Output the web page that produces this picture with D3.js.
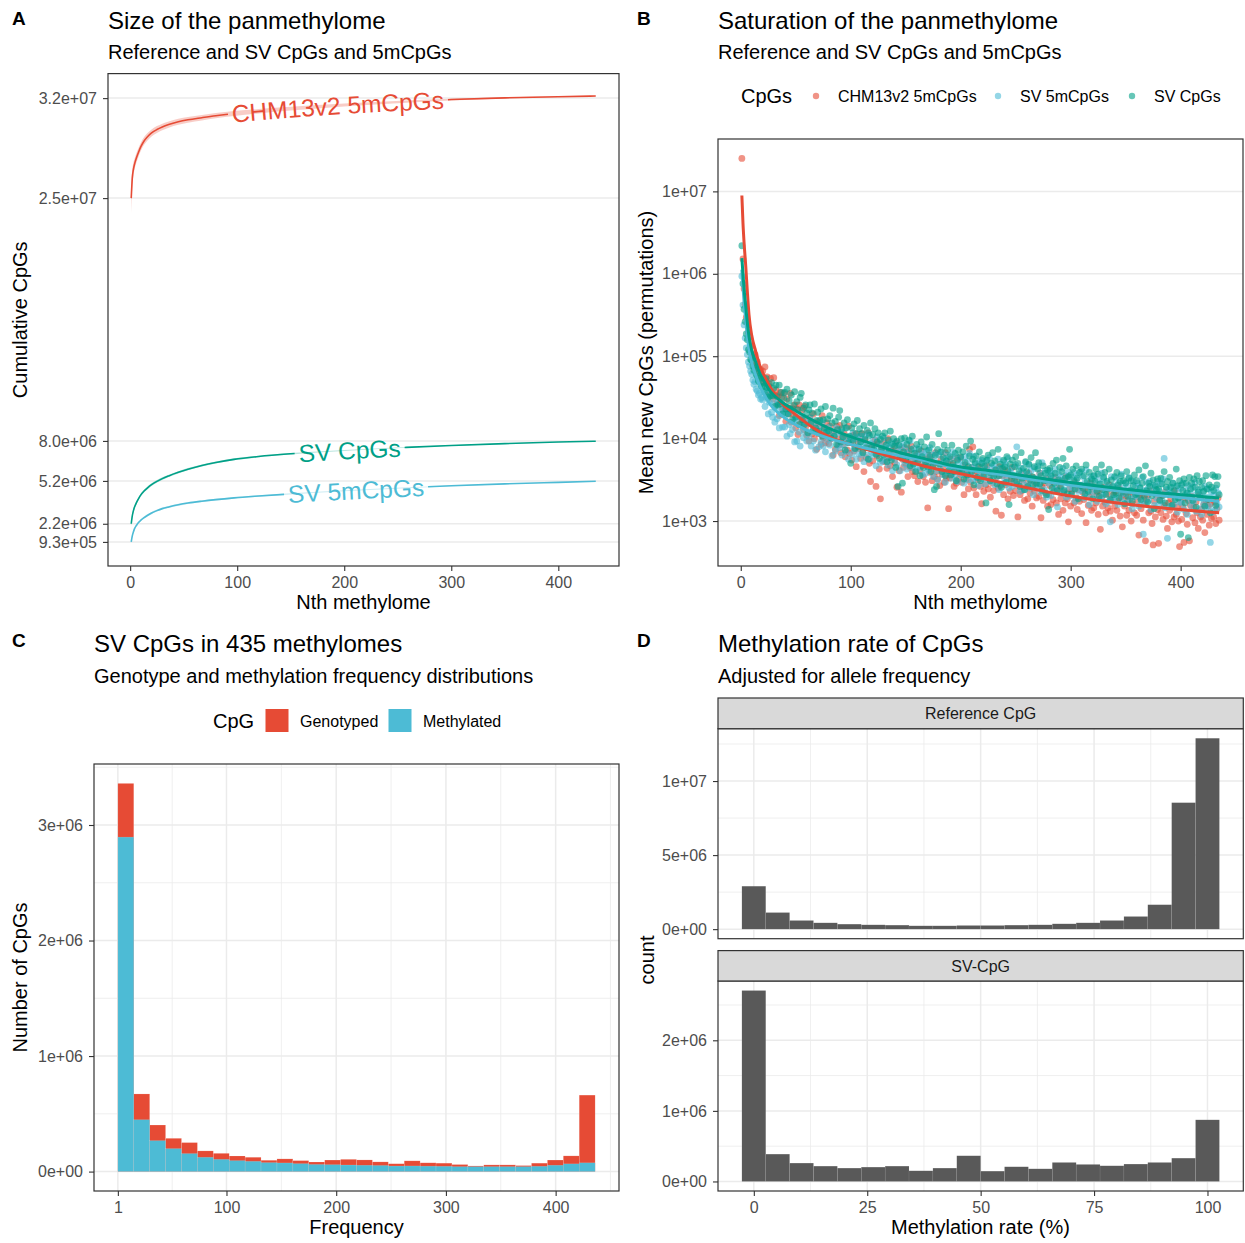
<!DOCTYPE html>
<html><head><meta charset="utf-8">
<script src="https://cdn.jsdelivr.net/npm/d3@7"></script>
<style>body{margin:0;background:#fff;}</style>
</head><body>
<script>
// ===================== DATA =====================
// Panel A: cumulative CpGs (millions) at methylome index
const nA = [1,2,3,4,6,8,10,13,16,20,25,30,36,45,54,67,80,97,120,150,200,258,300,350,400,435];
const cumChmM  = [25.0,26.4,27.0,27.35,27.85,28.25,28.6,29.0,29.28,29.56,29.8,29.98,30.15,30.34,30.48,30.63,30.77,30.92,31.08,31.26,31.52,31.76,31.9,32.02,32.1,32.15];
const cumSvM   = [2.2,2.75,3.1,3.35,3.7,3.98,4.22,4.49,4.70,4.94,5.17,5.36,5.55,5.80,6.02,6.28,6.49,6.71,6.91,7.10,7.33,7.55,7.68,7.81,7.92,7.98];
const cumSv5mM = [0.93,1.35,1.62,1.84,2.1,2.3,2.45,2.63,2.78,2.95,3.12,3.26,3.38,3.53,3.65,3.78,3.89,4.01,4.14,4.29,4.51,4.72,4.86,4.99,5.1,5.18];
// half-width of the permutation band (millions)
const bandChmM  = [1.1,0.6,0.45,0.38,0.33,0.3,0.28,0.27,0.26,0.25,0.24,0.23,0.22,0.21,0.2,0.19,0.18,0.17,0.15,0.13,0.1,0.08,0.06,0.04,0.02,0];
const bandSvM   = [0.2,0.15,0.13,0.12,0.11,0.1,0.1,0.1,0.1,0.09,0.09,0.09,0.08,0.08,0.08,0.07,0.07,0.07,0.06,0.05,0.04,0.03,0.025,0.02,0.01,0];
const bandSv5mM = [0.12,0.1,0.09,0.09,0.08,0.08,0.08,0.08,0.08,0.08,0.07,0.07,0.07,0.07,0.06,0.06,0.06,0.05,0.05,0.04,0.035,0.03,0.025,0.02,0.01,0];
const yTicksA = [0.93,2.2,5.2,8.0,25,32];
const yTickLabelsA = ["9.3e+05","2.2e+06","5.2e+06","8.0e+06","2.5e+07","3.2e+07"];
const xTicksN = [0,100,200,300,400];

// Panel B: log10(mean new CpGs) for methylome n = 1..435
const newChmLog10 = [7.40,6.18,5.82,5.63,5.47,5.41,5.29,5.24,5.14,5.12,5.03,4.99,5.02,4.90,4.93,4.85,4.80,4.84,4.74,
4.82,4.68,4.87,4.69,4.75,4.53,4.66,4.73,4.54,4.48,4.74,4.53,4.59,4.42,4.52,4.28,4.56,4.50,4.36,4.55,
4.36,4.21,4.48,4.38,4.30,4.55,4.20,4.36,4.29,4.41,4.13,4.36,4.05,4.41,4.18,4.24,4.35,4.11,4.39,4.14,
4.04,4.23,3.97,4.25,4.18,4.06,4.30,4.00,4.14,3.87,4.21,4.06,4.16,3.93,4.28,4.01,4.10,3.95,4.19,4.03,
3.94,4.15,4.00,4.08,3.80,4.04,3.87,4.15,3.99,3.92,4.16,3.83,4.04,3.93,4.06,3.78,3.99,3.86,4.15,3.82,
3.96,3.74,4.04,3.85,4.06,3.66,3.97,3.88,3.99,3.76,4.06,3.84,3.60,3.98,3.77,3.89,4.07,3.70,3.48,3.91,
3.73,3.93,3.98,3.42,3.79,3.94,3.63,3.27,3.87,3.73,3.96,3.72,3.82,3.64,4.00,3.77,3.67,3.85,3.54,3.87,
3.71,3.95,3.41,3.80,3.61,3.87,3.35,3.75,3.65,3.89,3.70,3.82,3.54,3.85,3.65,3.91,3.60,3.73,3.55,3.76,
3.82,3.48,3.74,3.61,3.85,3.67,3.54,3.75,3.47,3.69,3.16,3.80,3.59,3.75,3.49,3.68,3.54,3.83,3.60,3.51,
3.70,3.43,3.75,3.57,3.64,3.47,3.83,3.52,3.70,3.15,3.52,3.75,3.57,3.68,3.42,3.63,3.46,3.76,3.51,3.58,
3.77,3.47,3.62,3.32,3.68,3.51,3.58,3.39,3.87,3.47,3.65,3.90,3.40,3.57,3.32,3.60,3.50,3.66,3.42,3.21,
3.56,3.36,3.61,3.44,3.67,3.39,3.51,3.29,3.57,3.46,3.37,3.62,3.12,3.54,3.40,3.66,3.43,3.07,3.55,3.32,
3.62,3.44,3.53,3.27,3.57,3.36,3.48,3.65,3.31,3.49,3.37,3.54,3.05,3.45,3.32,3.57,3.37,3.50,3.25,3.53,
3.44,3.27,3.58,3.34,3.49,3.18,3.53,3.36,3.44,3.28,3.50,3.30,3.58,3.04,3.41,3.25,3.46,3.34,3.51,3.18,
3.32,3.43,3.20,3.48,3.26,3.36,3.53,3.22,3.38,3.08,3.43,3.27,3.49,3.13,3.35,3.22,3.54,3.27,2.99,3.39,
3.18,3.36,3.43,3.22,3.47,3.28,3.14,3.38,3.24,3.43,3.09,3.35,3.26,3.39,2.98,3.43,3.19,3.29,3.46,3.13,
3.35,3.16,3.41,3.22,3.32,3.08,3.36,2.90,3.28,3.18,3.41,3.23,3.10,3.33,3.16,3.44,3.12,3.27,3.01,3.34,
3.18,3.36,3.13,3.24,3.40,3.06,3.29,2.93,3.33,3.18,3.30,3.07,3.25,3.13,3.35,3.00,3.21,3.30,3.10,3.36,
3.07,3.25,2.83,3.29,3.15,3.32,3.01,3.21,2.76,3.26,3.31,3.10,3.37,3.12,2.97,2.71,3.24,3.05,3.32,3.14,
2.73,3.26,3.10,3.31,3.02,3.19,3.35,3.06,2.91,3.22,3.13,3.27,2.99,3.20,3.05,3.37,3.08,3.17,3.00,2.69,
3.23,3.02,3.17,2.74,3.28,3.09,2.96,3.25,2.76,3.19,3.30,3.04,3.17,2.98,3.23,3.10,2.91,3.31,3.05,3.14,
3.01,3.20,2.86,3.25,3.08,3.18,2.95,3.21,3.03,3.26,3.05,3.23,2.97,3.15,3.28,3.01];
const newSv5mLog10 = [5.97,5.62,5.38,5.22,5.10,5.02,4.93,4.88,4.82,4.78,4.71,4.66,4.69,4.60,4.58,4.53,4.55,4.48,4.50,
4.47,4.57,4.39,4.50,4.55,4.30,4.44,4.52,4.32,4.26,4.44,4.20,4.38,4.24,4.44,4.13,4.30,4.34,4.14,4.36,
4.14,4.29,4.03,4.31,4.17,4.06,4.33,4.11,4.21,3.96,4.23,3.97,4.27,4.08,3.91,4.17,4.27,4.01,4.08,4.19,
3.97,4.19,4.03,4.25,3.91,4.09,3.97,4.19,3.86,4.11,4.07,3.90,4.14,3.96,4.20,3.91,4.07,3.84,4.09,3.98,
4.14,3.92,4.00,3.79,4.07,4.02,3.85,4.13,3.92,4.07,3.89,4.08,3.80,4.01,3.92,4.13,3.84,3.96,3.75,4.02,
3.98,3.81,4.07,3.88,4.00,3.75,4.02,3.82,3.93,4.03,3.80,3.96,3.72,4.03,3.91,3.80,4.06,3.75,3.94,3.83,
3.98,3.81,3.89,3.67,4.02,3.83,3.94,3.71,3.89,3.73,4.01,3.75,3.87,3.93,3.68,3.89,3.77,3.95,3.61,3.82,
3.75,3.95,3.68,3.88,3.83,3.61,3.90,3.76,3.94,3.69,3.87,3.63,3.82,3.70,3.97,3.74,3.65,3.88,3.70,3.82,
3.62,3.79,3.89,3.65,3.81,3.56,3.83,3.72,3.58,3.85,3.78,3.62,3.89,3.67,3.80,3.54,3.73,3.82,3.61,3.50,
3.80,3.64,3.70,3.84,3.56,3.75,3.47,3.72,3.80,3.59,3.63,3.76,3.52,3.84,3.66,3.56,3.78,3.48,3.70,3.62,
3.76,3.56,3.68,3.46,3.78,3.60,3.72,3.50,3.82,3.56,3.65,3.49,3.78,3.69,3.52,3.62,3.43,3.72,3.57,3.74,
3.51,3.66,3.45,3.73,3.62,3.53,3.77,3.48,3.66,3.56,3.68,3.44,3.63,3.54,3.75,3.38,3.64,3.58,3.45,3.72,
3.51,3.68,3.47,3.76,3.40,3.59,3.64,3.42,3.56,3.47,3.68,3.90,3.44,3.57,3.36,3.64,3.49,3.60,3.38,3.71,
3.44,3.57,3.68,3.40,3.61,3.48,3.32,3.64,3.52,3.40,3.67,3.44,3.58,3.35,3.71,3.50,3.38,3.61,3.29,3.54,
3.46,3.61,3.31,3.57,3.52,3.38,3.63,3.41,3.17,3.57,3.53,3.34,3.49,3.64,3.38,3.55,3.29,3.50,3.59,3.41,
3.31,3.53,3.40,3.59,3.24,3.50,3.56,3.36,3.44,3.60,3.37,3.54,3.28,3.47,3.62,3.32,3.44,3.20,3.54,3.37,
3.49,3.30,3.55,3.38,3.24,3.50,3.45,3.27,3.58,3.31,3.51,3.34,3.21,3.46,3.41,3.24,2.99,3.54,3.28,3.43,
3.27,3.52,3.40,3.20,3.46,3.31,3.57,3.24,3.40,3.33,3.47,3.22,3.42,3.53,3.27,3.37,3.15,3.48,3.30,3.42,
3.30,3.46,3.18,3.41,3.24,3.53,2.84,3.37,3.21,3.47,3.39,3.25,3.48,3.14,3.35,3.43,3.19,3.41,3.28,3.48,
3.20,3.36,3.45,3.24,3.51,3.76,3.16,3.38,2.79,3.33,3.40,3.18,3.34,3.46,3.20,3.28,3.42,3.11,3.36,3.23,
3.40,3.22,3.46,3.14,3.31,3.37,3.08,3.43,3.25,3.34,3.18,3.41,3.24,3.47,3.12,3.33,3.38,3.15,3.30,3.08,
3.35,3.21,3.42,3.15,3.29,3.39,3.18,2.74,3.35,3.11,3.31,3.13,3.40,3.21,3.34,3.17];
const newSvLog10 = [6.34,5.88,5.57,5.42,5.27,5.20,5.08,5.05,4.96,4.95,4.88,4.83,4.86,4.78,4.76,4.70,4.73,4.66,4.64,
4.63,4.73,4.57,4.73,4.62,4.50,4.63,4.52,4.68,4.52,4.61,4.39,4.65,4.51,4.41,4.65,4.42,4.56,4.30,4.49,
4.56,4.36,4.60,4.30,4.46,4.36,4.53,4.23,4.40,4.57,4.26,4.45,4.35,4.17,4.50,4.55,4.23,4.37,4.17,4.41,
4.31,4.07,4.35,4.41,4.20,4.31,4.10,4.42,4.13,4.22,4.32,4.09,4.22,4.36,4.03,4.23,4.13,4.39,4.08,4.24,
4.09,4.28,4.01,4.19,4.37,4.03,4.21,3.93,4.11,4.26,4.34,3.96,4.12,4.02,4.19,3.86,4.13,4.23,3.95,4.03,
3.70,4.13,3.96,4.18,3.88,4.06,4.22,3.90,4.12,3.96,4.06,3.83,4.16,3.99,3.89,4.10,3.75,4.04,4.19,3.89,
4.05,3.87,4.12,3.81,3.96,4.07,3.76,3.99,3.88,4.03,3.80,4.07,3.92,3.72,3.98,3.84,4.09,3.74,3.93,4.00,
3.91,3.65,3.97,3.42,3.92,3.78,4.00,3.46,3.84,4.01,3.74,3.93,3.78,3.98,3.67,3.87,4.03,3.69,3.82,3.60,
3.93,3.73,3.87,3.55,3.96,3.78,3.65,3.90,3.71,4.02,3.66,3.86,3.78,3.60,3.93,3.67,3.38,3.80,3.42,3.87,
4.06,3.69,3.84,3.60,3.77,3.92,3.55,3.73,3.86,3.61,3.78,3.56,3.92,3.70,3.60,3.82,3.49,3.74,3.86,3.63,
3.78,3.61,3.84,3.51,3.71,3.91,3.56,3.66,3.79,3.97,3.60,3.75,3.44,3.71,3.79,3.53,3.66,3.84,3.49,3.70,
3.76,3.55,3.67,3.22,3.74,3.80,3.59,3.49,3.70,3.83,3.54,3.73,3.62,3.45,3.87,3.55,3.69,3.41,3.64,3.74,
3.66,3.47,3.78,3.61,3.20,3.69,3.51,3.74,3.55,3.66,3.78,3.48,3.70,3.61,3.42,3.83,3.52,3.64,3.38,3.72,
3.60,3.42,3.69,3.50,3.77,3.54,3.44,3.66,3.83,3.46,3.63,3.71,3.45,3.55,3.37,3.67,3.49,3.58,3.32,3.62,
3.14,3.64,3.55,3.40,3.70,3.46,3.58,3.74,3.37,3.50,3.65,3.42,3.60,3.76,3.37,3.52,3.67,3.33,3.54,3.87,
3.56,3.33,3.63,3.49,3.39,3.67,3.52,3.27,3.59,3.43,3.63,3.40,3.55,3.33,3.68,3.48,3.36,3.59,3.42,3.51,
3.27,3.55,3.48,3.63,3.36,3.57,3.30,3.45,3.68,3.38,3.53,3.59,3.32,3.48,3.39,3.63,3.26,3.50,3.42,3.32,
3.54,3.34,3.59,3.44,3.28,3.48,3.55,3.35,3.49,3.21,3.46,3.60,3.30,3.52,3.37,3.49,3.24,3.43,3.56,3.32,
3.49,3.33,3.62,3.40,3.26,3.46,3.54,3.30,3.67,3.37,3.23,3.46,3.42,3.58,3.31,3.50,3.15,3.43,3.38,3.51,
3.39,3.25,3.52,3.45,3.31,3.60,3.22,3.41,3.48,3.32,3.53,3.41,3.19,3.46,3.37,3.26,3.63,3.43,3.28,3.49,
2.84,3.44,3.37,3.51,3.22,3.46,3.34,2.80,3.53,3.39,3.46,3.25,3.51,3.41,3.17,3.55,3.35,3.48,3.28,3.41,
3.49,3.36,3.18,3.55,3.39,3.26,3.44,3.10,3.41,3.56,3.37,3.54,3.19,3.44,3.54,3.32];
// smooth fits (log10) at knots
const nFit = [1,2,3,4.5,6,7.5,10,13.6,17,21,27,36,51,66,81,112,142,172,190,233,293,354,435];
const fitChmLog10  = [6.95,6.62,6.38,6.10,5.78,5.50,5.25,5.06,4.90,4.77,4.62,4.45,4.28,4.13,4.02,3.88,3.76,3.65,3.60,3.48,3.32,3.20,3.10];
const fitSv5mLog10 = [6.05,5.85,5.66,5.44,5.24,5.08,4.92,4.77,4.65,4.54,4.41,4.29,4.16,4.07,4.00,3.89,3.80,3.72,3.66,3.57,3.45,3.35,3.24];
const fitSvLog10   = [6.19,6.00,5.82,5.61,5.40,5.24,5.07,4.93,4.80,4.70,4.57,4.46,4.33,4.22,4.12,3.97,3.84,3.74,3.68,3.60,3.48,3.38,3.28];
const yTicksB = [1e3,1e4,1e5,1e6,1e7];
const yTickLabelsB = ["1e+03","1e+04","1e+05","1e+06","1e+07"];

// Panel C: histogram of SV CpG frequency (30 bins, start 1, width 14.5)
const freqBinStart = 1, freqBinWidth = 14.5;
const genotypedM  = [3.36,0.672,0.403,0.288,0.251,0.179,0.158,0.135,0.124,0.098,0.110,0.095,0.083,0.100,0.106,0.101,0.084,0.068,0.093,0.076,0.073,0.061,0.049,0.058,0.058,0.052,0.073,0.100,0.136,0.662];
const methylatedM = [2.895,0.449,0.268,0.199,0.156,0.124,0.106,0.095,0.089,0.078,0.075,0.069,0.062,0.060,0.057,0.055,0.053,0.048,0.049,0.047,0.046,0.043,0.043,0.043,0.043,0.043,0.046,0.055,0.067,0.076];
const xTicksC = [1,100,200,300,400];
const yTicksC = [0,1,2,3];
const yTickLabelsC = ["0e+00","1e+06","2e+06","3e+06"];

// Panel D: methylation rate histograms (20 bins centred 0..100)
const rateBins = 20;
const refCountM = [2.90,1.12,0.584,0.427,0.337,0.292,0.270,0.225,0.225,0.247,0.247,0.270,0.292,0.360,0.427,0.584,0.854,1.65,8.54,12.89];
const svCountM  = [2.705,0.387,0.260,0.217,0.189,0.203,0.217,0.151,0.189,0.364,0.146,0.208,0.179,0.269,0.241,0.222,0.246,0.269,0.330,0.873];
const xTicksD = [0,25,50,75,100];
const yTicksD1 = [0,5,10], yTickLabelsD1 = ["0e+00","5e+06","1e+07"];
const yTicksD2 = [0,1,2],  yTickLabelsD2 = ["0e+00","1e+06","2e+06"];

// ===================== STYLE =====================
const FONT = '"Liberation Sans", Arial, Helvetica, sans-serif';
const RED = "#E64B35", BLUE = "#4DBBD5", TEAL = "#00A087";
const GRID = "#EBEBEB", BORDER = "#333333", TICKTXT = "#4D4D4D";

const svg = d3.select("body").append("svg").attr("width",1245).attr("height",1243)
  .attr("font-family",FONT);
svg.append("rect").attr("width",1245).attr("height",1243).attr("fill","#fff");

function txt(x,y,s,size,o={}){
  const t = svg.append("text").attr("x",x).attr("y",y).attr("font-size",size)
    .attr("fill",o.fill||"#000").text(s);
  if(o.anchor) t.attr("text-anchor",o.anchor);
  if(o.weight) t.attr("font-weight",o.weight);
  if(o.rot) t.attr("transform",`rotate(-90,${x},${y})`);
  return t;
}
function hgrid(box,y,vals,w){
  svg.append("g").selectAll("line").data(vals.filter(v=>{const p=y(v);return p>=box.y0&&p<=box.y1;})).join("line")
    .attr("x1",box.x0).attr("x2",box.x1).attr("y1",d=>y(d)).attr("y2",d=>y(d))
    .attr("stroke",GRID).attr("stroke-width",w);
}
function vgrid(box,x,vals,w){
  svg.append("g").selectAll("line").data(vals.filter(v=>{const p=x(v);return p>=box.x0&&p<=box.x1;})).join("line")
    .attr("y1",box.y0).attr("y2",box.y1).attr("x1",d=>x(d)).attr("x2",d=>x(d))
    .attr("stroke",GRID).attr("stroke-width",w);
}
function border(box){
  svg.append("rect").attr("x",box.x0).attr("y",box.y0).attr("width",box.x1-box.x0).attr("height",box.y1-box.y0)
    .attr("fill","none").attr("stroke",BORDER).attr("stroke-width",1.2);
}
function styleAxis(g){
  g.attr("font-family",FONT).attr("font-size",16);
  g.select(".domain").remove();
  g.selectAll(".tick line").attr("stroke",BORDER).attr("stroke-width",1.1);
  g.selectAll(".tick text").attr("fill",TICKTXT);
}
function leftAxis(box,y,vals,labels){
  const g = svg.append("g").attr("transform",`translate(${box.x0},0)`);
  g.call(d3.axisLeft(y).tickValues(vals).tickFormat((d,i)=>labels[i]).tickSize(5).tickPadding(6));
  styleAxis(g);
}
function bottomAxis(box,x,vals,labels){
  const g = svg.append("g").attr("transform",`translate(0,${box.y1})`);
  g.call(d3.axisBottom(x).tickValues(vals).tickFormat((d,i)=>labels?labels[i]:String(d)).tickSize(5).tickPadding(6));
  styleAxis(g);
}

// ===================== PANEL A =====================
const boxA = {x0:108,x1:619,y0:73.6,y1:566};
const xA = d3.scaleLinear().domain([1-21.7,435+21.7]).range([boxA.x0,boxA.x1]);
const seriesA = [
  {name:"CHM13v2 5mCpGs", vals:cumChmM,  band:bandChmM,  color:RED,  labelN:194},
  {name:"SV CpGs",        vals:cumSvM,   band:bandSvM,   color:TEAL, labelN:205},
  {name:"SV 5mCpGs",      vals:cumSv5mM, band:bandSv5mM, color:BLUE, labelN:211}
];
let loA=Infinity, hiA=-Infinity;
seriesA.forEach(s=>s.vals.forEach((v,i)=>{loA=Math.min(loA,v-s.band[i]);hiA=Math.max(hiA,v+s.band[i]);}));
const padA=(hiA-loA)*0.05;
const yA = d3.scaleLinear().domain([loA-padA,hiA+padA]).range([boxA.y1,boxA.y0]);

txt(12,25,"A",19,{weight:"bold"});
txt(108,28.5,"Size of the panmethylome",24);
txt(108,58.5,"Reference and SV CpGs and 5mCpGs",20);
hgrid(boxA,yA,yTicksA,1.5);

const areaA = d3.area().curve(d3.curveMonotoneX).x(d=>xA(d.n)).y0(d=>yA(d.v-d.b)).y1(d=>yA(d.v+d.b));
const lineA = d3.line().curve(d3.curveMonotoneX).x(d=>xA(d.n)).y(d=>yA(d.v));
seriesA.forEach(s=>{
  s.pts = nA.map((n,i)=>({n:n,v:s.vals[i],b:s.band[i]}));
  svg.append("path").attr("d",areaA(s.pts)).attr("fill",s.color).attr("opacity",0.28);
});
seriesA.forEach((s,k)=>{
  const id="pathA"+k;
  const p = svg.append("path").attr("id",id).attr("d",lineA(s.pts)).attr("fill","none")
    .attr("stroke",s.color).attr("stroke-width",1.6);
  const node=p.node(), total=node.getTotalLength(), tx=xA(s.labelN);
  let lo=0, hi=total;
  for(let it=0;it<40;it++){const m=(lo+hi)/2; if(node.getPointAtLength(m).x<tx) lo=m; else hi=m;}
  const t = svg.append("text").attr("font-size",24.5).attr("fill",s.color)
    .attr("text-anchor","middle").attr("dominant-baseline","central");
  t.append("textPath").attr("href","#"+id).attr("startOffset",lo).text(s.name);
  const w = t.node().getComputedTextLength();
  p.attr("stroke-dasharray",`${lo-w/2-4} ${w+8} ${total}`);
});
border(boxA);
leftAxis(boxA,yA,yTicksA,yTickLabelsA);
bottomAxis(boxA,xA,xTicksN);
txt(27,(boxA.y0+boxA.y1)/2,"Cumulative CpGs",20,{anchor:"middle",rot:true});
txt((boxA.x0+boxA.x1)/2,609,"Nth methylome",20,{anchor:"middle"});

// ===================== PANEL B =====================
const boxB = {x0:718,x1:1243,y0:139,y1:566};
const xB = d3.scaleLinear().domain([1-21.7,435+21.7]).range([boxB.x0,boxB.x1]);
const allLogB = newChmLog10.concat(newSv5mLog10,newSvLog10,fitChmLog10,fitSv5mLog10,fitSvLog10);
const lminB=d3.min(allLogB), lmaxB=d3.max(allLogB), lpadB=(lmaxB-lminB)*0.05;
const yB = d3.scaleLog().domain([Math.pow(10,lminB-lpadB),Math.pow(10,lmaxB+lpadB)]).range([boxB.y1,boxB.y0]);

txt(637,25,"B",19,{weight:"bold"});
txt(718,28.5,"Saturation of the panmethylome",24);
txt(718,58.5,"Reference and SV CpGs and 5mCpGs",20);
// legend
txt(741,103,"CpGs",20);
const legB=[{x:816,label:"CHM13v2 5mCpGs",c:RED},{x:998,label:"SV 5mCpGs",c:BLUE},{x:1132,label:"SV CpGs",c:TEAL}];
legB.forEach(l=>{
  svg.append("circle").attr("cx",l.x).attr("cy",96).attr("r",3.2).attr("fill",l.c).attr("opacity",0.6);
  txt(l.x+22,101.7,l.label,16);
});
hgrid(boxB,yB,yTicksB,1.5);
const seriesB=[{v:newChmLog10,f:fitChmLog10,c:RED},{v:newSv5mLog10,f:fitSv5mLog10,c:BLUE},{v:newSvLog10,f:fitSvLog10,c:TEAL}];
seriesB.forEach(s=>{
  svg.append("g").selectAll("circle").data(s.v).join("circle")
    .attr("cx",(d,i)=>xB(i+1)).attr("cy",d=>yB(Math.pow(10,d))).attr("r",3.4)
    .attr("fill",s.c).attr("fill-opacity",0.6);
});
const lineB = d3.line().curve(d3.curveMonotoneX).x(d=>xB(d[0])).y(d=>yB(Math.pow(10,d[1])));
seriesB.forEach(s=>{
  svg.append("path").attr("d",lineB(nFit.map((n,i)=>[n,s.f[i]]))).attr("fill","none")
    .attr("stroke",s.c).attr("stroke-width",3);
});
border(boxB);
leftAxis(boxB,yB,yTicksB,yTickLabelsB);
bottomAxis(boxB,xB,xTicksN);
txt(653,(boxB.y0+boxB.y1)/2,"Mean new CpGs (permutations)",20,{anchor:"middle",rot:true});
txt((boxB.x0+boxB.x1)/2,609,"Nth methylome",20,{anchor:"middle"});

// ===================== PANEL C =====================
const boxC = {x0:94,x1:619,y0:764,y1:1191};
const binEndC = freqBinStart + freqBinWidth*genotypedM.length;
const padCx = (binEndC-freqBinStart)*0.05;
const xC = d3.scaleLinear().domain([freqBinStart-padCx,binEndC+padCx]).range([boxC.x0,boxC.x1]);
const maxC = d3.max(genotypedM);
const yC = d3.scaleLinear().domain([-maxC*0.05,maxC*1.05]).range([boxC.y1,boxC.y0]);

txt(12,647,"C",19,{weight:"bold"});
txt(94,652,"SV CpGs in 435 methylomes",24);
txt(94,682.5,"Genotype and methylation frequency distributions",20);
txt(213,728,"CpG",20);
svg.append("rect").attr("x",265.5).attr("y",709).attr("width",23).attr("height",23).attr("fill",RED);
txt(300,726.5,"Genotyped",16);
svg.append("rect").attr("x",388.5).attr("y",709).attr("width",23).attr("height",23).attr("fill",BLUE);
txt(423,726.5,"Methylated",16);

vgrid(boxC,xC,[50.5,150,250,350,450],0.8);
hgrid(boxC,yC,[0.5,1.5,2.5,3.5],0.8);
vgrid(boxC,xC,xTicksC,1.5);
hgrid(boxC,yC,yTicksC,1.5);
[[genotypedM,RED],[methylatedM,BLUE]].forEach(([arr,c])=>{
  svg.append("g").selectAll("rect").data(arr).join("rect")
    .attr("x",(d,i)=>xC(freqBinStart+i*freqBinWidth))
    .attr("width",(d,i)=>xC(freqBinStart+(i+1)*freqBinWidth)-xC(freqBinStart+i*freqBinWidth))
    .attr("y",d=>yC(d)).attr("height",d=>yC(0)-yC(d)).attr("fill",c)
    .attr("stroke","#ffffff").attr("stroke-opacity",0.25).attr("stroke-width",0.5);
});
border(boxC);
leftAxis(boxC,yC,yTicksC,yTickLabelsC);
bottomAxis(boxC,xC,xTicksC);
txt(27,(boxC.y0+boxC.y1)/2,"Number of CpGs",20,{anchor:"middle",rot:true});
txt((boxC.x0+boxC.x1)/2,1234,"Frequency",20,{anchor:"middle"});

// ===================== PANEL D =====================
const binW = 100/(rateBins-1);
const xD = d3.scaleLinear().domain([-binW/2-(100+binW)*0.05, 100+binW/2+(100+binW)*0.05]).range([718,1243.3]);
txt(637,647,"D",19,{weight:"bold"});
txt(718,652,"Methylation rate of CpGs",24);
txt(718,682.5,"Adjusted for allele frequency",20);
const facets=[
  {label:"Reference CpG",vals:refCountM,box:{x0:718,x1:1243.3,y0:728.7,y1:938.7},strip:[698,728.7],ticks:yTicksD1,labels:yTickLabelsD1,minor:[2.5,7.5,12.5]},
  {label:"SV-CpG",vals:svCountM,box:{x0:718,x1:1243.3,y0:981,y1:1191},strip:[950.6,981],ticks:yTicksD2,labels:yTickLabelsD2,minor:[0.5,1.5,2.5]}
];
facets.forEach((f,k)=>{
  const mx=d3.max(f.vals);
  const y=d3.scaleLinear().domain([-mx*0.05,mx*1.05]).range([f.box.y1,f.box.y0]);
  vgrid(f.box,xD,[12.5,37.5,62.5,87.5],0.8);
  hgrid(f.box,y,f.minor,0.8);
  vgrid(f.box,xD,xTicksD,1.5);
  hgrid(f.box,y,f.ticks,1.5);
  svg.append("g").selectAll("rect").data(f.vals).join("rect")
    .attr("x",(d,i)=>xD(i*binW-binW/2)).attr("width",(d,i)=>xD(i*binW+binW/2)-xD(i*binW-binW/2))
    .attr("y",d=>y(d)).attr("height",d=>y(0)-y(d)).attr("fill","#595959")
    .attr("stroke","#ffffff").attr("stroke-opacity",0.12).attr("stroke-width",0.5);
  border(f.box);
  svg.append("rect").attr("x",f.box.x0).attr("y",f.strip[0]).attr("width",f.box.x1-f.box.x0).attr("height",f.strip[1]-f.strip[0])
    .attr("fill","#D9D9D9").attr("stroke",BORDER).attr("stroke-width",1.2);
  txt((f.box.x0+f.box.x1)/2,(f.strip[0]+f.strip[1])/2+5.8,f.label,16,{anchor:"middle",fill:"#1A1A1A"});
  leftAxis(f.box,y,f.ticks,f.labels);
  if(k===1) bottomAxis(f.box,xD,xTicksD);
});
txt(654,960,"count",20,{anchor:"middle",rot:true});
txt(980.5,1234,"Methylation rate (%)",20,{anchor:"middle"});
</script>
</body></html>
